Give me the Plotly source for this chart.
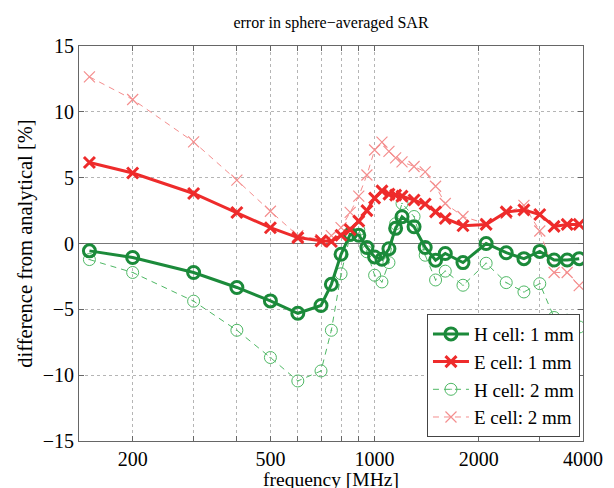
import plotly.graph_objects as go

# frequencies [MHz]
freq = [150, 200, 300, 400, 500, 600, 700, 750, 800, 850, 900, 950, 1000, 1050,
        1100, 1150, 1200, 1300, 1400, 1500, 1600, 1800, 2100, 2400, 2700, 3000,
        3300, 3600, 3900]

# difference from analytical [%]
h_cell_1mm = [-0.56, -1.06, -2.2, -3.34, -4.36, -5.3, -4.71, -3.1, -0.82, 0.7,
              0.63, -0.3, -1.02, -1.2, -0.4, 1.15, 2.03, 1.27, -0.3, -1.27,
              -0.76, -1.45, 0.0, -0.7, -1.15, -0.6, -1.25, -1.25, -1.15]
e_cell_1mm = [6.15, 5.35, 3.8, 2.35, 1.2, 0.45, 0.2, 0.15, 0.63, 1.05, 1.7,
              2.5, 3.45, 4.0, 3.75, 3.67, 3.6, 3.3, 3.0, 2.4, 1.9, 1.35, 1.45,
              2.4, 2.55, 2.2, 1.3, 1.45, 1.45]
h_cell_2mm = [-1.22, -2.2, -4.38, -6.59, -8.66, -10.44, -9.68, -6.59, -2.3,
              0.6, 1.05, -0.63, -2.41, -2.92, -1.45, 1.5, 3.04, 2.05, -0.89,
              -2.77, -2.1, -3.17, -1.5, -2.97, -3.68, -3.05, -5.62, -5.83, -6.34]
e_cell_2mm = [12.66, 10.94, 7.72, 4.81, 2.45, 0.6, 0.3, 0.6, 1.2, 2.36, 3.6,
              5.2, 7.1, 7.7, 7.0, 6.5, 6.2, 5.85, 5.44, 4.35, 3.04, 2.05, 1.5,
              2.3, 2.9, 0.95, -2.2, -2.2, -3.2]

x_ticks = [200, 500, 1000, 2000, 4000]
x_minor = [300, 400, 600, 700, 800, 900, 3000]

FONT = "Liberation Serif"
GREEN = "#1b8a3a"
RED = "#ee2b2b"
LGREEN = "#4fb865"
LRED = "#f48e8e"
AXIS = "#666"
GRID = "#b5b5b5"

fig = go.Figure()

# dashed (2 mm) first, so the 1 mm series sit on top
fig.add_trace(go.Scatter(
    x=freq, y=h_cell_2mm, name="H cell: 2 mm", mode="lines+markers",
    line=dict(color=LGREEN, width=1, dash="6px,5px"),
    marker=dict(symbol="circle-open-dot", size=12, color=LGREEN,
                line=dict(width=1, color=LGREEN)),
    legendrank=3,
))
fig.add_trace(go.Scatter(
    x=freq, y=e_cell_2mm, name="E cell: 2 mm", mode="lines+markers",
    line=dict(color=LRED, width=1, dash="6px,5px"),
    marker=dict(symbol="x-thin", size=11, color=LRED,
                line=dict(width=1.2, color=LRED)),
    legendrank=4,
))
fig.add_trace(go.Scatter(
    x=freq, y=h_cell_1mm, name="H cell: 1 mm", mode="lines+markers",
    line=dict(color=GREEN, width=3),
    marker=dict(symbol="circle-open", size=12, color=GREEN,
                line=dict(width=3, color=GREEN)),
    legendrank=1,
))
fig.add_trace(go.Scatter(
    x=freq, y=e_cell_1mm, name="E cell: 1 mm", mode="lines+markers",
    line=dict(color=RED, width=3),
    marker=dict(symbol="x-thin", size=11, color=RED,
                line=dict(width=3, color=RED)),
    legendrank=2,
))

# the page puts the figure 8px in from the top-left, margins allow for that
fig.update_layout(
    width=614, height=488,
    margin=dict(l=71, r=39, t=38, b=55),
    paper_bgcolor="white", plot_bgcolor="white",
    font=dict(family=FONT, size=20, color="black"),
    title=dict(text="error in sphere\u2212averaged SAR", x=0.526, xanchor="center",
               y=0.971, yanchor="middle", font=dict(family=FONT, size=16)),
    legend=dict(x=0.994, y=0.01, xanchor="right", yanchor="bottom",
                bgcolor="white", bordercolor="#444", borderwidth=1,
                font=dict(family=FONT, size=19), traceorder="normal",
                tracegroupgap=0, itemwidth=36),
    showlegend=True,
    annotations=[dict(text="frequency [MHz]", xref="paper", yref="paper",
                      x=0.5, y=-0.066, xanchor="center", yanchor="top",
                      showarrow=False, font=dict(family=FONT, size=19.5))],
)

fig.update_xaxes(
    type="log", range=[2.146, 3.602], automargin=False,
    tickvals=x_ticks, ticktext=[str(v) for v in x_ticks],
    ticks="inside", ticklen=5, tickcolor=AXIS,
    showline=True, linecolor=AXIS, linewidth=1, mirror="ticks",
    showgrid=True, gridcolor=GRID, griddash="dot", gridwidth=1,
    minor=dict(tickvals=x_minor, ticks="inside", ticklen=5, tickcolor=AXIS,
               showgrid=True, gridcolor=GRID, griddash="dot"),
    zeroline=False,
)
fig.update_yaxes(
    range=[-15, 15], dtick=5, automargin=False,
    ticks="inside", ticklen=5, tickcolor=AXIS,
    showline=True, linecolor=AXIS, linewidth=1, mirror="ticks",
    showgrid=True, gridcolor=GRID, griddash="dot", gridwidth=1,
    zeroline=True, zerolinecolor="#777", zerolinewidth=1.3,
    title=dict(text="difference from analytical [%]", standoff=4,
               font=dict(size=20.5)),
)

fig.write_html("out.html")
